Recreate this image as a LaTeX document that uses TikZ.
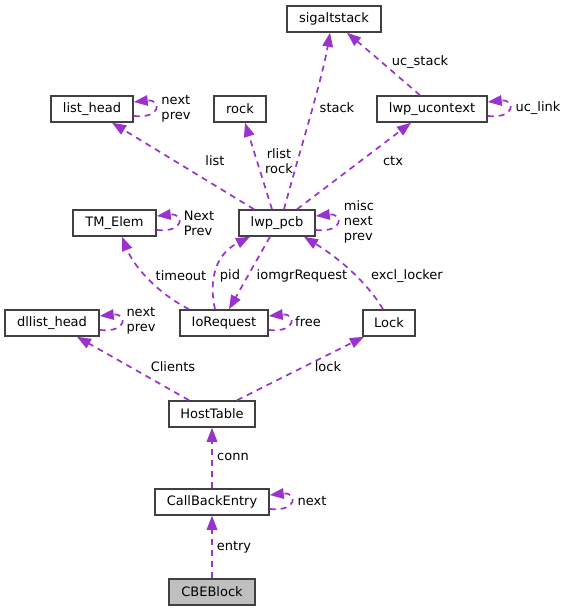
\documentclass[tikz,border=0pt]{standalone}
\usepackage{fontspec}
\setmainfont{DejaVu Sans}
\usetikzlibrary{arrows.meta}
\definecolor{edgecol}{HTML}{9A32CD}
\definecolor{boxline}{HTML}{404040}
\definecolor{rootfill}{HTML}{BFBFBF}
\begin{document}
\begin{tikzpicture}[x=1pt,y=-1pt,
  cls/.style={draw=boxline, line width=1.5pt, fill=white, minimum height=26pt, inner sep=0pt, font=\fontsize{13}{15}\selectfont, text=black},
  root/.style={cls, fill=rootfill},
  lbl/.style={font=\fontsize{13}{15}\selectfont, inner sep=0pt, align=left, text=black},
  edge/.style={draw=edgecol, line width=1.7pt, dash pattern=on 6pt off 5pt, -{Triangle[length=14pt,width=10.5pt,fill=edgecol]}},
]
\useasboundingbox (0,0) rectangle (567,611);
% classes
\node[cls, minimum width=94pt] (sig) at (334,19) {sigaltstack};
\node[cls, minimum width=82pt] (lh) at (92,109) {list\_head};
\node[cls, minimum width=52pt] (rk) at (240,109) {rock};
\node[cls, minimum width=110pt] (uc) at (432,109) {lwp\_ucontext};
\node[cls, minimum width=83pt] (tm) at (114.5,223) {TM\_Elem};
\node[cls, minimum width=76pt] (lp) at (277,223) {lwp\_pcb};
\node[cls, minimum width=94pt] (dl) at (52,323) {dllist\_head};
\node[cls, minimum width=88pt] (io) at (224,323) {IoRequest};
\node[cls, minimum width=52pt] (lk) at (389,323) {Lock};
\node[cls, minimum width=86pt] (ht) at (212,414) {HostTable};
\node[cls, minimum width=114pt] (cb) at (212,502) {CallBackEntry};
\node[root, minimum width=86pt] (cbe) at (212,592) {CBEBlock};
% edges
\draw[edge] ([xshift=-23pt]lp.north) -- ([xshift=20pt]lh.south);
\draw[edge] ([xshift=-5pt]lp.north) -- ([xshift=5pt]rk.south);
\draw[edge] ([xshift=7pt]lp.north) .. controls (300,150) and (322,80) .. ([xshift=-4pt]sig.south);
\draw[edge] ([xshift=20pt]lp.north) -- ([xshift=-21pt]uc.south);
\draw[edge] ([xshift=-12pt]uc.north) .. controls (400,78) and (370,52) .. ([xshift=13pt]sig.south);
\draw[edge] ([xshift=-35pt]io.north) .. controls (152,290) and (132,262) .. ([xshift=7.5pt]tm.south);
\draw[edge] ([xshift=-9pt]io.north) .. controls (209,282) and (214,255) .. ([xshift=-27pt]lp.south);
\draw[edge] ([xshift=-7pt]lp.south) -- ([xshift=5pt]io.north);
\draw[edge] ([xshift=-6pt]lk.north) .. controls (370,287) and (345,262) .. ([xshift=27pt]lp.south);
\draw[edge] ([xshift=-23pt]ht.north) -- ([xshift=25pt]dl.south);
\draw[edge] ([xshift=25pt]ht.north) -- ([xshift=-25pt]lk.south);
\draw[edge] (cb.north) -- (ht.south);
\draw[edge] (cbe.north) -- (cb.south);
% self loops
\draw[edge] ([yshift=-7pt]lh.east) .. controls +(28,3) and +(28,-3) .. ([yshift=7pt]lh.east);
\draw[edge] ([yshift=-7pt]uc.east) .. controls +(28,3) and +(28,-3) .. ([yshift=7pt]uc.east);
\draw[edge] ([yshift=-7pt]tm.east) .. controls +(28,3) and +(28,-3) .. ([yshift=7pt]tm.east);
\draw[edge] ([yshift=-7pt]lp.east) .. controls +(28,3) and +(28,-3) .. ([yshift=7pt]lp.east);
\draw[edge] ([yshift=-7pt]dl.east) .. controls +(28,3) and +(28,-3) .. ([yshift=7pt]dl.east);
\draw[edge] ([yshift=-7pt]io.east) .. controls +(28,3) and +(28,-3) .. ([yshift=7pt]io.east);
\draw[edge] ([yshift=-7pt]cb.east) .. controls +(28,3) and +(28,-3) .. ([yshift=7pt]cb.east);
% labels
\node[lbl] (l1) at (215,161) {list};
\node[lbl, align=center] (l2) at (279,161) {rlist\\rock};
\node[lbl] (l3) at (337,108) {stack};
\node[lbl] (l4) at (393,161) {ctx};
\node[lbl] (l5) at (420,62) {uc\_stack};
\node[lbl] (l6) at (176,109) {next\\prev};
\node[lbl] (l7) at (538,108) {uc\_link};
\node[lbl] (l8) at (199,223) {Next\\Prev};
\node[lbl] (l9) at (359,222) {misc\\next\\prev};
\node[lbl] (l10) at (181,276) {timeout};
\node[lbl] (l11) at (230,276) {pid};
\node[lbl] (l12) at (302,276) {iomgrRequest};
\node[lbl] (l13) at (407,276) {excl\_locker};
\node[lbl] (l14) at (141,321) {next\\prev};
\node[lbl] (l15) at (308,322) {free};
\node[lbl] (l16) at (173,367) {Clients};
\node[lbl] (l17) at (328,367) {lock};
\node[lbl] (l18) at (233,457) {conn};
\node[lbl] (l19) at (312,501) {next};
\node[lbl] (l20) at (234,547) {entry};
\end{tikzpicture}
\end{document}
